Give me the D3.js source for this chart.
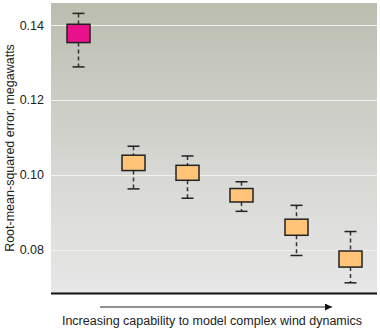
<!DOCTYPE html>
<html><head><meta charset="utf-8">
<script src="https://cdn.jsdelivr.net/npm/d3@7"></script>
<style>
html,body{margin:0;padding:0;background:#fff;}
svg{display:block;font-family:"Liberation Sans",Arial,Helvetica,sans-serif;}
</style></head>
<body>
<svg id="chart" width="380" height="329"></svg>
<script>
// Data
const models = ["M1","M2","M3","M4","M5","M6"];
const whiskerLow  = [0.1288, 0.0962, 0.0937, 0.0902, 0.0784, 0.0711];
const boxLow      = [0.1353, 0.1011, 0.0985, 0.0927, 0.0838, 0.0753];
const boxHigh     = [0.1402, 0.1052, 0.1025, 0.0963, 0.0881, 0.0796];
const whiskerHigh = [0.1431, 0.1076, 0.1050, 0.0981, 0.0918, 0.0848];
const boxColors   = ["#e8108b","#ffc478","#ffc478","#ffc478","#ffc478","#ffc478"];
const yTicks = [0.08, 0.10, 0.12, 0.14];
const yTitle = "Root-mean-squared error, megawatts";
const xTitle = "Increasing capability to model complex wind dynamics";

const svg = d3.select("#chart");
const plot = {left:51, right:377, top:3, bottom:293};

const y = d3.scaleLinear().domain([0.08, 0.14]).range([249.5, 25]);
const x = d3.scalePoint().domain(models).range([plot.left, plot.right]).padding(0.5);
const boxW = 23;

// background gradient
const defs = svg.append("defs");
const grad = defs.append("linearGradient").attr("id","bg").attr("x1",0).attr("x2",0).attr("y1",0).attr("y2",1);
grad.append("stop").attr("offset","0%").attr("stop-color","#bcbdb0");
grad.append("stop").attr("offset","55%").attr("stop-color","#d6d6d2");
grad.append("stop").attr("offset","100%").attr("stop-color","#e7e7e7");
svg.append("rect").attr("x",plot.left).attr("y",plot.top)
  .attr("width",plot.right-plot.left).attr("height",plot.bottom-plot.top)
  .attr("fill","url(#bg)");

// gridlines
svg.append("g").selectAll("line").data(yTicks).join("line")
  .attr("x1",plot.left).attr("x2",plot.right)
  .attr("y1",d=>Math.round(y(d))+0.5).attr("y2",d=>Math.round(y(d))+0.5)
  .attr("stroke","#f2f2f0").attr("stroke-width",1.2);

// y axis labels
const yAxis = d3.axisLeft(y).tickValues(yTicks).tickFormat(d3.format(".2f")).tickSize(0).tickPadding(7);
const ga = svg.append("g").attr("transform",`translate(${plot.left},0)`).call(yAxis);
ga.select(".domain").remove();
ga.selectAll("text").attr("font-size",12.5).attr("fill","#222").attr("font-family","Liberation Sans, Arial, sans-serif");

// y title
svg.append("text").attr("transform","translate(14,148) rotate(-90)")
  .attr("text-anchor","middle").attr("font-size",12.5).attr("fill","#222").text(yTitle);

// boxes
const g = svg.append("g");
models.forEach((m,i)=>{
  const cx = Math.round(x(m))+0.5;
  g.append("line").attr("x1",cx).attr("x2",cx).attr("y1",y(whiskerHigh[i])).attr("y2",y(boxHigh[i]))
    .attr("stroke","#333").attr("stroke-width",1.5).attr("stroke-dasharray","4,3");
  g.append("line").attr("x1",cx).attr("x2",cx).attr("y1",y(boxLow[i])).attr("y2",y(whiskerLow[i]))
    .attr("stroke","#333").attr("stroke-width",1.5).attr("stroke-dasharray","4,3");
  [whiskerHigh[i], whiskerLow[i]].forEach(v=>{
    g.append("line").attr("x1",cx-6).attr("x2",cx+6).attr("y1",y(v)).attr("y2",y(v))
      .attr("stroke","#222").attr("stroke-width",1.5);
  });
  g.append("rect").attr("x",cx-boxW/2).attr("y",y(boxHigh[i]))
    .attr("width",boxW).attr("height",y(boxLow[i])-y(boxHigh[i]))
    .attr("fill",boxColors[i]).attr("stroke","#222").attr("stroke-width",1.5);
});

// bottom axis line
svg.append("line").attr("x1",plot.left).attr("x2",plot.right).attr("y1",293.5).attr("y2",293.5)
  .attr("stroke","#111").attr("stroke-width",2);

// arrow
defs.append("marker").attr("id","arr").attr("viewBox","0 0 10 10").attr("refX",10).attr("refY",5)
  .attr("markerWidth",15).attr("markerHeight",7).attr("markerUnits","userSpaceOnUse").attr("orient","auto")
  .append("path").attr("d","M0,0L10,5L0,10Z").attr("fill","#111");
svg.append("line").attr("x1",100).attr("x2",332).attr("y1",307).attr("y2",307)
  .attr("stroke","#222").attr("stroke-width",1).attr("marker-end","url(#arr)");

svg.append("text").attr("x",212).attr("y",325).attr("text-anchor","middle")
  .attr("font-size",12.5).attr("fill","#222").text(xTitle);
</script>
</body></html>
